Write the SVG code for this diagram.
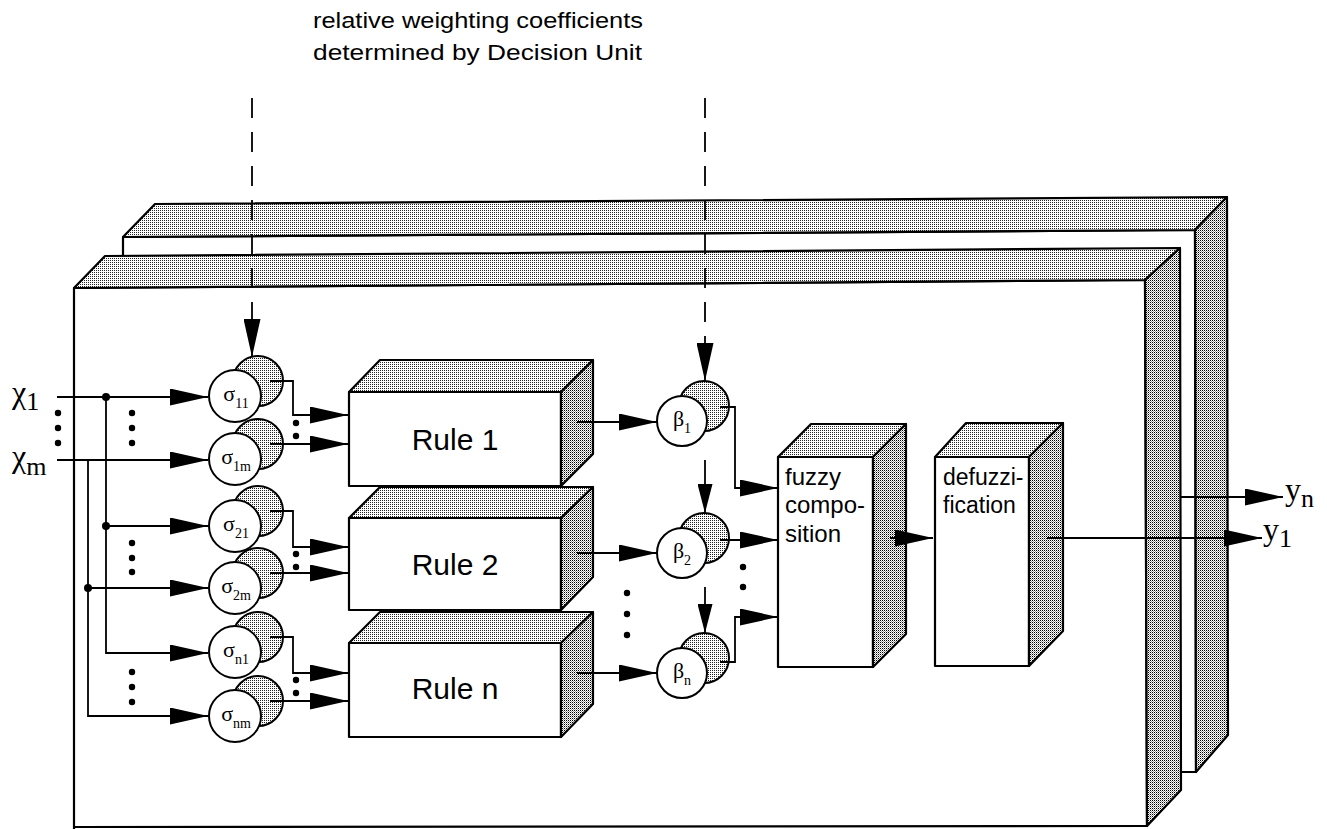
<svg xmlns="http://www.w3.org/2000/svg" width="1327" height="829" viewBox="0 0 1327 829">
<defs>
<pattern id="dots" width="2" height="2" patternUnits="userSpaceOnUse"><rect width="2" height="2" fill="#fff"/><rect width="1" height="1" fill="#222"/></pattern>
<pattern id="dots2" width="2" height="2" patternUnits="userSpaceOnUse"><rect width="2" height="2" fill="#fff"/><rect width="1" height="1" fill="#000"/><rect x="1" y="1" width="1" height="1" fill="#999"/></pattern>
<marker id="ah" markerUnits="userSpaceOnUse" markerWidth="38" markerHeight="17" refX="38" refY="8.5" orient="auto"><path d="M0,0 L38,8.5 L0,17 z" fill="#000"/></marker>
<marker id="ahs" markerUnits="userSpaceOnUse" markerWidth="29" markerHeight="15" refX="29" refY="7.5" orient="auto"><path d="M0,0 L29,7.5 L0,15 z" fill="#000"/></marker>
<style>
.face{fill:#fff;stroke:#000;stroke-width:2.2;stroke-linejoin:round}
.top{fill:url(#dots);stroke:#000;stroke-width:2.2;stroke-linejoin:round}
.side{fill:url(#dots2);stroke:#000;stroke-width:2.2;stroke-linejoin:round}
.back{fill:url(#dots);stroke:#000;stroke-width:2}
.front{fill:#fff;stroke:#000;stroke-width:2}
.sans{font-family:"Liberation Sans",Arial,sans-serif;fill:#000}
.ser{font-family:"Liberation Serif","Times New Roman",serif;fill:#000}
.c{fill:none;stroke:#000;stroke-width:1.8}
.a{marker-end:url(#ah)}
.as{marker-end:url(#ahs)}
.d{stroke-dasharray:20 14}
</style>
</defs>
<rect width="1327" height="829" fill="#fff"/>

<g id="caption" class="sans" font-size="22">
<text x="313" y="28" textLength="330" lengthAdjust="spacingAndGlyphs">relative weighting coefficients</text>
<text x="313" y="60" textLength="329" lengthAdjust="spacingAndGlyphs">determined by Decision Unit</text>
</g>

<g id="panel-back">
<polygon class="face" points="123,237 1195,230 1196,772 123,772"/>
<polygon class="top" points="123,237 155,204 1227,197 1195,230"/>
<polygon class="side" points="1195,230 1227,197 1228,735 1196,772"/>
</g>
<g id="panel-front">
<polygon class="face" points="74,288 1145,280 1147,826 74,827"/>
<line x1="74" y1="827" x2="74" y2="829" stroke="#000" stroke-width="2.2"/>
<polygon class="top" points="74,288 105,256 1180,248 1145,280"/>
<polygon class="side" points="1145,280 1180,248 1181,790 1147,826"/>
</g>

<g id="inputs">
<text class="ser" x="12" y="403" font-size="32">χ<tspan font-size="26" dy="7">1</tspan></text>
<text class="ser" x="12" y="467" font-size="32">χ<tspan font-size="26" dy="8">m</tspan></text>
</g>

<g id="rule1">
<polygon class="face" points="349,392 561,392 561,486 349,486"/>
<polygon class="top" points="349,392 380,360 593,360 561,392"/>
<polygon class="side" points="561,392 593,360 593,454 561,486"/>
<text class="sans" x="455" y="450" font-size="30" text-anchor="middle">Rule 1</text>
</g>
<g id="rule2">
<polygon class="face" points="349,518 561,518 561,610 349,610"/>
<polygon class="top" points="349,518 380,487 593,487 561,518"/>
<polygon class="side" points="561,518 593,487 593,577 561,610"/>
<text class="sans" x="455" y="575" font-size="30" text-anchor="middle">Rule 2</text>
</g>
<g id="rulen">
<polygon class="face" points="349,643 561,643 561,737 349,737"/>
<polygon class="top" points="349,643 380,612 593,612 561,643"/>
<polygon class="side" points="561,643 593,612 593,704 561,737"/>
<text class="sans" x="455" y="699" font-size="30" text-anchor="middle">Rule n</text>
</g>

<g id="fuzzy">
<polygon class="face" points="778,457 873,457 873,667 778,667"/>
<polygon class="top" points="778,457 811,424 906,424 873,457"/>
<polygon class="side" points="873,457 906,424 906,634 873,667"/>
<text class="sans" font-size="24"><tspan x="785" y="485">fuzzy</tspan><tspan x="785" y="513">compo-</tspan><tspan x="785" y="542">sition</tspan></text>
</g>
<g id="defuzz">
<polygon class="face" points="935,457 1029,457 1029,666 935,666"/>
<polygon class="top" points="935,457 966,423 1063,423 1029,457"/>
<polygon class="side" points="1029,457 1063,423 1063,631 1029,666"/>
<text class="sans" font-size="23"><tspan x="943" y="485">defuzzi-</tspan><tspan x="943" y="513">fication</tspan></text>
</g>

<g id="s11"><circle class="back" cx="258" cy="381" r="25"/><circle class="front" cx="235" cy="396" r="26"/><text class="ser" x="236" y="401" font-size="22" text-anchor="middle">σ<tspan font-size="14" dy="7">11</tspan></text></g>
<g id="s1m"><circle class="back" cx="258" cy="444" r="25"/><circle class="front" cx="235" cy="459" r="26"/><text class="ser" x="236" y="464" font-size="22" text-anchor="middle">σ<tspan font-size="14" dy="7">1m</tspan></text></g>
<g id="s21"><circle class="back" cx="258" cy="511" r="25"/><circle class="front" cx="235" cy="526" r="26"/><text class="ser" x="236" y="531" font-size="22" text-anchor="middle">σ<tspan font-size="14" dy="7">21</tspan></text></g>
<g id="s2m"><circle class="back" cx="258" cy="573" r="25"/><circle class="front" cx="235" cy="588" r="26"/><text class="ser" x="236" y="593" font-size="22" text-anchor="middle">σ<tspan font-size="14" dy="7">2m</tspan></text></g>
<g id="sn1"><circle class="back" cx="258" cy="637" r="25"/><circle class="front" cx="235" cy="652" r="26"/><text class="ser" x="236" y="657" font-size="22" text-anchor="middle">σ<tspan font-size="14" dy="7">n1</tspan></text></g>
<g id="snm"><circle class="back" cx="258" cy="701" r="25"/><circle class="front" cx="235" cy="716" r="26"/><text class="ser" x="236" y="721" font-size="22" text-anchor="middle">σ<tspan font-size="14" dy="7">nm</tspan></text></g>

<g id="b1"><circle class="back" cx="704" cy="406" r="25"/><circle class="front" cx="682" cy="421" r="25"/><text class="ser" x="682" y="426" font-size="22" text-anchor="middle">β<tspan font-size="14" dy="7">1</tspan></text></g>
<g id="b2"><circle class="back" cx="704" cy="538" r="25"/><circle class="front" cx="682" cy="553" r="25"/><text class="ser" x="682" y="558" font-size="22" text-anchor="middle">β<tspan font-size="14" dy="7">2</tspan></text></g>
<g id="bn"><circle class="back" cx="704" cy="658" r="25"/><circle class="front" cx="682" cy="673" r="25"/><text class="ser" x="682" y="678" font-size="22" text-anchor="middle">β<tspan font-size="14" dy="7">n</tspan></text></g>

<g id="outputs">
<text class="ser" x="1285" y="500" font-size="32">y<tspan font-size="26" dy="7">n</tspan></text>
<text class="ser" x="1263" y="540" font-size="32">y<tspan font-size="26" dy="7">1</tspan></text>
</g>

<g id="connectors">
<path class="c a" d="M57,397 H208"/>
<path class="c a" d="M57,460 H208"/>
<path class="c a" d="M106,397 V653 H208"/>
<path class="c a" d="M106,526 H208"/>
<path class="c a" d="M88,460 V716 H208"/>
<path class="c a" d="M88,588 H208"/>
<path class="c a" d="M270,381 H293 V415 H348"/>
<path class="c a" d="M270,444 H348"/>
<path class="c a" d="M270,511 H293 V547 H348"/>
<path class="c a" d="M270,573 H348"/>
<path class="c a" d="M270,637 H293 V673 H348"/>
<path class="c a" d="M270,701 H348"/>
<path class="c a" d="M577,422 H657"/>
<path class="c a" d="M577,553 H657"/>
<path class="c a" d="M577,673 H657"/>
<path class="c a d" d="M252,98 V357"/>
<path class="c a d" d="M705,98 V381"/>
<path class="c as" d="M705,460 V513"/>
<path class="c as" d="M705,587 V633"/>
<path class="c a" d="M720,407 H735 V488 H778"/>
<path class="c a" d="M720,540 H778"/>
<path class="c a" d="M720,662 H735 V617 H778"/>
<path class="c a" d="M890,538 H933"/>
<path class="c a" d="M1047,538 H1262"/>
<path class="c a" d="M1181,497 H1283"/>
<g id="junctions" fill="#000">
<circle cx="106" cy="397" r="4"/><circle cx="106" cy="526" r="4"/><circle cx="88" cy="588" r="4"/>
</g>
<g id="ellipses" fill="#000">
<circle cx="58" cy="413" r="3.2"/><circle cx="58" cy="428" r="3.2"/><circle cx="58" cy="443" r="3.2"/>
<circle cx="132" cy="413" r="3.2"/><circle cx="132" cy="428" r="3.2"/><circle cx="132" cy="443" r="3.2"/>
<circle cx="132" cy="543" r="3.2"/><circle cx="132" cy="558" r="3.2"/><circle cx="132" cy="572" r="3.2"/>
<circle cx="132" cy="672" r="3.2"/><circle cx="132" cy="687" r="3.2"/><circle cx="132" cy="702" r="3.2"/>
<circle cx="296" cy="423" r="3.2"/><circle cx="296" cy="436" r="3.2"/>
<circle cx="296" cy="554" r="3.2"/><circle cx="296" cy="567" r="3.2"/>
<circle cx="296" cy="680" r="3.2"/><circle cx="296" cy="693" r="3.2"/>
<circle cx="627" cy="593" r="3.2"/><circle cx="627" cy="614" r="3.2"/><circle cx="627" cy="635" r="3.2"/>
<circle cx="743" cy="567" r="3.2"/><circle cx="743" cy="587" r="3.2"/>
</g>
</g>
</svg>
